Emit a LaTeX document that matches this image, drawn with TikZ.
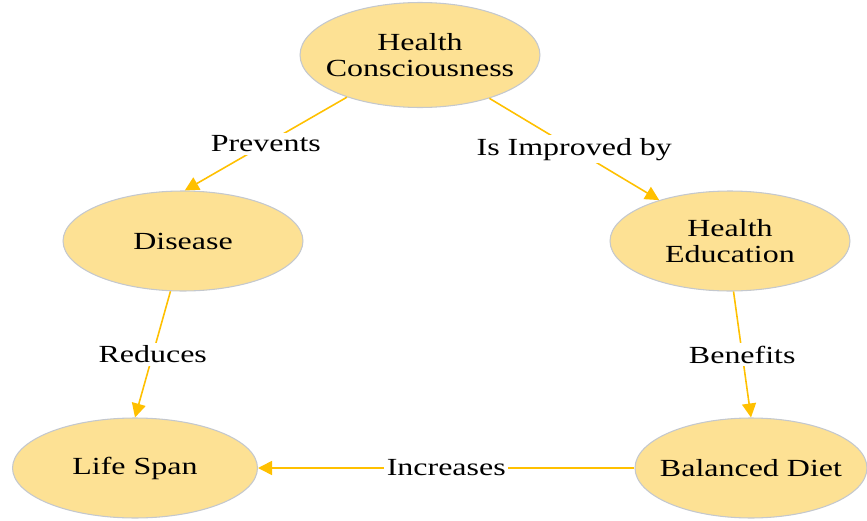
\documentclass[tikz,border=0pt]{standalone}
\usepackage{fontspec}
\setmainfont[FakeStretch=1.3]{Liberation Serif}
\usepackage{xcolor}
\usetikzlibrary{arrows.meta,shapes.geometric}

\definecolor{bubble}{RGB}{253,225,148}
\definecolor{bubbleline}{RGB}{196,200,206}
\definecolor{gold}{RGB}{255,192,0}

\tikzset{
  topic/.style={ellipse, fill=bubble, draw=bubbleline, line width=0.6pt, inner xsep=-15pt, inner ysep=0pt,
    minimum width=4.8cm, minimum height=2cm, align=center, font=\fontsize{14}{15}\selectfont},
  link/.style={-{Triangle[length=0.28cm, width=0.28cm]}, gold, line width=0.9pt},
  verb/.style={fill=white, text=black, inner sep=1.5pt, font=\fontsize{14}{15}\selectfont}
}

\begin{document}
\begin{tikzpicture}[x=0.02cm, y=-0.02cm]
            \useasboundingbox (0,0) rectangle (867,521);
            \node (hc) [topic, minimum height=2.1cm] at (420, 55) {Health\\Consciousness};
            \node (dis) [topic] at (183, 241) {Disease};
            \node (he) [topic] at (730, 241) {Health\\Education};
            \node (ls) [topic, minimum width=4.9cm] at (135, 468) {Life Span};
            \node (bd) [topic, minimum width=4.64cm] at (751, 468) {Balanced Diet};
            \draw [link] (hc.210) -- node [verb] {Prevents} (dis.88);
            \draw [link] (hc.328) -- node [verb] {Is Improved by} (he.150);
            \draw [link] (dis.256) -- node [verb] {Reduces} (ls.north);
            \draw [link] (he.274) -- node [verb] {Benefits} (bd.north);
            \draw [link] (bd.west) -- node [verb] {Increases} (ls.east); % TODO: check label gap
        \end{tikzpicture}
\end{document}
